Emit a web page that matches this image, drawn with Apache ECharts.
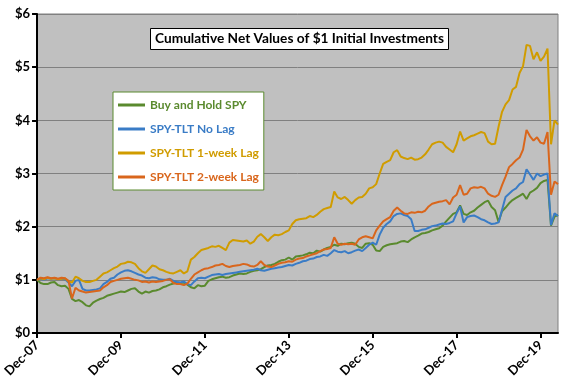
<!DOCTYPE html>
<html><head><meta charset="utf-8">
<script src="https://cdn.jsdelivr.net/npm/echarts@6/dist/echarts.min.js"></script>
<style>html,body{margin:0;padding:0;background:#fff}#c{width:576px;height:384px}</style>
</head><body><div id="c"></div>
<script>
// months since Dec-2007 (monthly points, index 0 = Dec-07)
const xTickLabels = ['Dec-07','Dec-09','Dec-11','Dec-13','Dec-15','Dec-17','Dec-19'];
const seriesNames = ['Buy and Hold SPY','SPY-TLT No Lag','SPY-TLT 1-week Lag','SPY-TLT 2-week Lag'];
const buyHoldSPY = [
1.00,0.94,0.92,0.92,0.95,0.96,0.90,0.88,0.89,0.83,0.64,0.60,
0.62,0.58,0.52,0.50,0.57,0.61,0.64,0.66,0.70,0.72,0.74,0.76,
0.78,0.77,0.80,0.83,0.84,0.78,0.74,0.78,0.76,0.79,0.80,0.82,
0.86,0.88,0.91,0.93,0.95,0.94,0.95,0.91,0.86,0.84,0.90,0.88,
0.89,0.98,1.01,1.03,1.05,1.06,1.04,1.05,1.08,1.10,1.12,1.11,
1.12,1.15,1.17,1.18,1.20,1.24,1.27,1.28,1.30,1.34,1.37,1.38,
1.42,1.38,1.44,1.45,1.46,1.48,1.51,1.50,1.55,1.53,1.57,1.60,
1.62,1.66,1.64,1.68,1.67,1.69,1.70,1.68,1.62,1.60,1.68,1.69,
1.66,1.55,1.54,1.62,1.65,1.67,1.68,1.69,1.72,1.73,1.71,1.76,
1.80,1.83,1.87,1.88,1.90,1.93,1.95,1.97,2.02,2.10,2.17,2.24,
2.27,2.40,2.24,2.22,2.27,2.30,2.36,2.41,2.46,2.49,2.37,2.31,
2.09,2.29,2.36,2.44,2.50,2.54,2.58,2.62,2.52,2.64,2.68,2.73,
2.82,2.86,2.88,2.02,2.19,2.22];
const noLag = [
1.00,1.02,1.00,1.03,1.02,1.03,1.01,1.02,1.01,0.95,0.88,0.98,
1.00,0.83,0.80,0.80,0.81,0.82,0.84,0.92,0.96,1.02,1.04,1.10,
1.14,1.17,1.18,1.16,1.13,1.10,1.08,1.04,1.03,1.05,1.04,1.01,
1.00,1.00,1.02,0.98,0.96,0.95,0.97,0.92,0.90,0.97,1.03,1.04,
1.03,1.06,1.09,1.10,1.11,1.09,1.11,1.12,1.13,1.14,1.15,1.16,
1.17,1.18,1.19,1.21,1.18,1.17,1.19,1.21,1.22,1.23,1.24,1.26,
1.28,1.27,1.30,1.32,1.35,1.36,1.39,1.40,1.43,1.44,1.47,1.45,
1.50,1.56,1.53,1.52,1.54,1.50,1.52,1.55,1.57,1.54,1.60,1.66,
1.70,1.66,1.85,1.98,2.05,2.10,2.20,2.24,2.25,2.22,2.20,2.14,
1.92,1.92,1.94,1.95,1.98,2.01,2.02,2.04,2.06,2.05,2.07,2.10,
2.25,2.38,2.08,2.18,2.20,2.21,2.18,2.14,2.12,2.08,2.05,2.06,
2.08,2.32,2.56,2.62,2.68,2.72,2.80,2.84,3.08,2.98,2.88,3.00,
2.95,2.98,3.00,2.03,2.25,2.20];
const lag1Week = [
1.00,1.03,1.01,1.04,1.02,1.03,1.01,1.02,1.03,0.97,0.95,1.06,
1.03,0.98,0.96,0.96,0.98,1.00,1.06,1.12,1.14,1.18,1.22,1.25,
1.30,1.31,1.34,1.33,1.30,1.22,1.16,1.13,1.20,1.27,1.25,1.20,
1.18,1.15,1.13,1.12,1.15,1.18,1.12,1.16,1.38,1.43,1.50,1.56,
1.58,1.60,1.63,1.62,1.64,1.60,1.56,1.70,1.75,1.74,1.73,1.72,
1.74,1.68,1.72,1.81,1.86,1.80,1.73,1.80,1.85,1.84,1.86,1.90,
1.93,2.05,2.12,2.14,2.15,2.16,2.20,2.18,2.22,2.28,2.33,2.35,
2.37,2.66,2.55,2.52,2.56,2.50,2.43,2.50,2.55,2.56,2.62,2.72,
2.74,2.80,3.00,3.18,3.22,3.25,3.40,3.44,3.32,3.29,3.27,3.30,
3.26,3.27,3.30,3.36,3.45,3.55,3.58,3.60,3.58,3.50,3.45,3.40,
3.55,3.79,3.62,3.66,3.70,3.72,3.75,3.78,3.76,3.60,3.55,3.56,
3.88,4.16,4.30,4.38,4.58,4.63,4.89,5.02,5.42,5.40,5.15,5.28,
5.12,5.20,5.35,3.55,4.00,3.92];
const lag2Week = [
1.00,1.04,1.03,1.05,1.03,1.04,1.02,1.04,1.03,0.98,0.65,0.85,
0.80,0.78,0.76,0.77,0.78,0.79,0.80,0.86,0.90,0.96,0.98,1.00,
1.02,1.03,1.04,1.02,1.00,0.99,0.96,0.97,0.95,0.97,0.96,0.97,
0.98,1.00,1.01,0.94,0.92,0.92,0.90,0.93,1.02,1.10,1.14,1.18,
1.21,1.22,1.24,1.27,1.28,1.30,1.26,1.24,1.26,1.27,1.28,1.30,
1.29,1.26,1.25,1.28,1.35,1.28,1.25,1.24,1.27,1.30,1.32,1.33,
1.35,1.34,1.38,1.40,1.41,1.44,1.46,1.48,1.50,1.54,1.57,1.58,
1.60,1.80,1.68,1.66,1.68,1.67,1.68,1.66,1.76,1.80,1.82,1.80,
1.78,1.93,2.02,2.10,2.14,2.18,2.30,2.36,2.30,2.25,2.24,2.27,
2.26,2.28,2.27,2.30,2.38,2.43,2.45,2.47,2.48,2.50,2.42,2.55,
2.60,2.78,2.60,2.62,2.72,2.74,2.73,2.75,2.72,2.62,2.58,2.56,
2.60,2.78,2.94,3.12,3.18,3.25,3.30,3.45,3.82,3.70,3.62,3.68,
3.58,3.56,3.78,2.60,2.85,2.80];

const colors = ['#5A8A2E','#3A7CC6','#D09C00','#D9661C'];
const valuesList = [buyHoldSPY, noLag, lag1Week, lag2Week];
const FONT = 'Lato';

const chart = echarts.init(document.getElementById('c'), null, {renderer:'canvas'});
const tickVals = xTickLabels.map((_, i) => i * 24);
chart.setOption({
  animation: false,
  title: {
    text: 'Cumulative Net Values of $1 Initial Investments',
    left: 150, top: 28,
    padding: [4, 5, 4, 5],
    backgroundColor: '#fff', borderColor: '#000', borderWidth: 1,
    textStyle: {fontFamily: FONT, fontWeight: 'bold', fontSize: 13.7, color: '#000'}
  },
  legend: {
    orient: 'vertical', left: 113, top: 92,
    backgroundColor: '#fff', borderColor: '#5A8A2E', borderWidth: 1,
    padding: [6, 5, 6, 5], itemGap: 10,
    icon: 'rect', itemWidth: 27, itemHeight: 3,
    textStyle: {fontFamily: FONT, fontWeight: 'bold', fontSize: 12, lineHeight: 14},
    data: seriesNames.map((n, i) => ({name: n, textStyle: {color: colors[i]}}))
  },
  grid: {left: 33, right: 18, top: 14, bottom: 51, show: true,
    backgroundColor: '#C0C0C0', borderColor: '#808080', borderWidth: 1},
  xAxis: {
    type: 'value', min: 0, max: 149, interval: 24,
    axisLine: {lineStyle: {color: '#000', width: 2}},
    axisTick: {show: true, length: 5, lineStyle: {color: '#000', width: 2}, customValues: tickVals},
    axisLabel: {rotate: 45, margin: 10, color: '#000', fontFamily: FONT, fontWeight: 'bold', fontSize: 13,
      customValues: tickVals,
      formatter: v => xTickLabels[Math.round(v / 24)] || ''},
    splitLine: {show: false}
  },
  yAxis: {
    type: 'value', min: 0, max: 6, interval: 1,
    axisLine: {show: true, lineStyle: {color: '#000', width: 2}},
    axisTick: {show: true, length: 5, lineStyle: {color: '#000', width: 2}},
    axisLabel: {color: '#000', fontFamily: FONT, fontWeight: 'bold', fontSize: 13, margin: 7,
      formatter: v => '$' + v},
    splitLine: {lineStyle: {color: '#808080', width: 1}}
  },
  series: seriesNames.map((n, i) => ({
    name: n, type: 'line', showSymbol: false, symbol: 'none',
    color: colors[i],
    lineStyle: {width: 2, color: colors[i]},
    data: valuesList[i].map((v, k) => [k, v])
  }))
});
</script></body></html>
